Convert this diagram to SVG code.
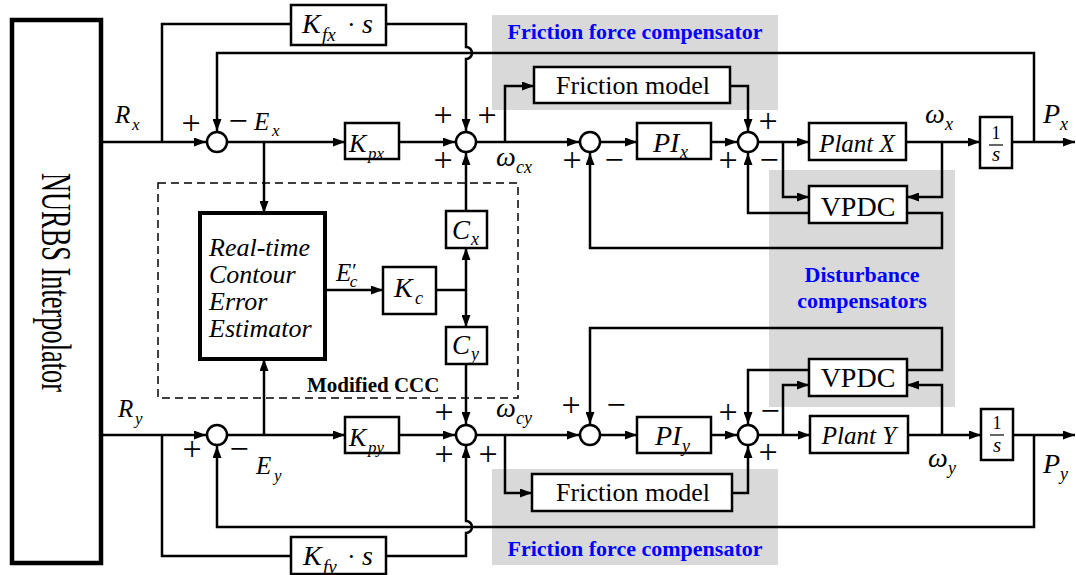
<svg xmlns="http://www.w3.org/2000/svg" width="1076" height="575" viewBox="0 0 1076 575">
<style>
.ln{stroke:#000;stroke-width:2.5;fill:none}
.ar{marker-end:url(#a)}
.bx{fill:#fff;stroke:#000;stroke-width:2.5}
.sm{fill:#fff;stroke:#000;stroke-width:2.5}
.gr{fill:#d9d9d9}
text{font-family:"Liberation Serif","Times New Roman",serif;fill:#000}
.i{font-style:italic}
.s{font-size:34px;text-anchor:middle}
.bl{font-weight:bold;fill:#0000ff;font-size:22px;text-anchor:middle}
</style>
<defs>
<marker id="a" viewBox="0 0 12 9" refX="12" refY="4.5" markerWidth="12" markerHeight="9" markerUnits="userSpaceOnUse" orient="auto"><path d="M0,0L12,4.5L0,9z" fill="#000"/></marker>
</defs>
<rect x="0" y="0" width="1076" height="575" fill="#fff"/>
<!-- gray regions -->
<rect class="gr" x="492" y="15" width="286" height="95"/>
<rect class="gr" x="769" y="170" width="186" height="237"/>
<rect class="gr" x="492" y="469" width="286" height="96"/>
<!-- dashed CCC -->
<rect x="158" y="183" width="360" height="215" fill="none" stroke="#000" stroke-width="1.5" stroke-dasharray="8 5"/>
<g id="connectors">
<!-- top -->
<path class="ln ar" d="M101,142H206"/>
<path class="ln" d="M162,142V24H291"/>
<path class="ln ar" d="M386,24H466V47a6,6 0 0 1 0,12V131"/>
<path class="ln ar" d="M1034,142V53H217V131"/>
<path class="ln ar" d="M227,142H345"/>
<path class="ln ar" d="M264,142V213"/>
<path class="ln ar" d="M399,142H455"/>
<path class="ln ar" d="M476,142H579"/>
<path class="ln ar" d="M505,142V86H534"/>
<path class="ln ar" d="M730,86H748V131"/>
<path class="ln ar" d="M600,142H637"/>
<path class="ln ar" d="M711,142H737"/>
<path class="ln ar" d="M758,142H809"/>
<path class="ln ar" d="M906,142H980"/>
<path class="ln ar" d="M1012,142H1075"/>
<path class="ln ar" d="M942,142V197H907"/>
<path class="ln ar" d="M783,142V197H809"/>
<path class="ln ar" d="M809,213H748V153"/>
<path class="ln ar" d="M907,213H942V248H590V153"/>
<!-- CCC -->
<path class="ln ar" d="M325,290H383"/>
<path class="ln" d="M436,290H466"/>
<path class="ln ar" d="M466,290V248"/>
<path class="ln ar" d="M466,290V327"/>
<path class="ln ar" d="M466,211V153"/>
<path class="ln ar" d="M466,364V424"/>
<!-- bottom -->
<path class="ln ar" d="M101,435H206"/>
<path class="ln" d="M162,435V556H291"/>
<path class="ln ar" d="M386,556H466V533a6,6 0 0 0 0,-12V446"/>
<path class="ln ar" d="M1034,435V527H217V446"/>
<path class="ln ar" d="M227,435H345"/>
<path class="ln ar" d="M264,435V359"/>
<path class="ln ar" d="M399,435H455"/>
<path class="ln ar" d="M476,435H579"/>
<path class="ln ar" d="M505,435V493H532"/>
<path class="ln ar" d="M732,493H748V446"/>
<path class="ln ar" d="M600,435H637"/>
<path class="ln ar" d="M711,435H737"/>
<path class="ln ar" d="M758,435H810"/>
<path class="ln ar" d="M908,435H981"/>
<path class="ln ar" d="M1013,435H1075"/>
<path class="ln ar" d="M942,435V385H907"/>
<path class="ln ar" d="M783,435V385H809"/>
<path class="ln ar" d="M809,370H748V424"/>
<path class="ln ar" d="M907,370H942V328H590V424"/>
</g>
<!-- NURBS -->
<g id="nurbs">
<rect x="12" y="20" width="89" height="543" fill="#fff" stroke="#000" stroke-width="4.5"/>
<text transform="translate(42,173) rotate(90)" font-size="42" textLength="219" lengthAdjust="spacingAndGlyphs">NURBS Interpolator</text>
</g>
<!-- sums -->
<g id="sum1x"><circle class="sm" cx="217" cy="142" r="10"/></g>
<g id="sum2x"><circle class="sm" cx="466" cy="142" r="10"/></g>
<g id="sum3x"><circle class="sm" cx="590" cy="142" r="10"/></g>
<g id="sum4x"><circle class="sm" cx="748" cy="142" r="10"/></g>
<g id="sum1y"><circle class="sm" cx="217" cy="435" r="10"/></g>
<g id="sum2y"><circle class="sm" cx="466" cy="435" r="10"/></g>
<g id="sum3y"><circle class="sm" cx="590" cy="435" r="10"/></g>
<g id="sum4y"><circle class="sm" cx="748" cy="435" r="10"/></g>
<!-- blocks -->
<g id="kfx"><rect class="bx" x="291" y="5" width="95" height="40"/>
<text class="i" x="302" y="33" font-size="28">K</text><text class="i" x="322" y="41" font-size="19">fx</text><text x="347" y="33" font-size="26">·</text><text class="i" x="362" y="33" font-size="28">s</text></g>
<g id="kfy"><rect class="bx" x="291" y="537" width="95" height="37"/>
<text class="i" x="303" y="565" font-size="28">K</text><text class="i" x="323" y="573" font-size="19">fy</text><text x="347" y="565" font-size="26">·</text><text class="i" x="362" y="565" font-size="28">s</text></g>
<g id="kpx"><rect class="bx" x="345" y="123" width="54" height="36"/>
<text class="i" x="349" y="152" font-size="26">K</text><text class="i" x="368" y="159" font-size="17">px</text></g>
<g id="kpy"><rect class="bx" x="345" y="417" width="54" height="36"/>
<text class="i" x="349" y="446" font-size="26">K</text><text class="i" x="368" y="453" font-size="17">py</text></g>
<g id="frx"><rect class="bx" x="534" y="67" width="196" height="36"/>
<text x="633" y="94" font-size="26" text-anchor="middle">Friction model</text></g>
<g id="fry"><rect class="bx" x="532" y="474" width="200" height="37"/>
<text x="633" y="501" font-size="26" text-anchor="middle">Friction model</text></g>
<g id="pix"><rect class="bx" x="637" y="123" width="74" height="36"/>
<text class="i" x="653" y="152" font-size="28">PI</text><text class="i" x="680" y="158" font-size="18">x</text></g>
<g id="piy"><rect class="bx" x="637" y="417" width="74" height="36"/>
<text class="i" x="655" y="445" font-size="28">PI</text><text class="i" x="682" y="452" font-size="18">y</text></g>
<g id="plantx"><rect class="bx" x="809" y="123" width="97" height="37"/>
<text class="i" x="857" y="152" font-size="25" text-anchor="middle">Plant X</text></g>
<g id="planty"><rect class="bx" x="810" y="416" width="98" height="37"/>
<text class="i" x="859" y="444" font-size="25" text-anchor="middle">Plant Y</text></g>
<g id="intx"><rect class="bx" x="980" y="117" width="32" height="51"/>
<text x="996" y="139" font-size="18" text-anchor="middle">1</text><path d="M989,145H1003" stroke="#000" stroke-width="1.2"/><text class="i" x="996" y="161" font-size="21" text-anchor="middle">s</text></g>
<g id="inty"><rect class="bx" x="981" y="409" width="32" height="51"/>
<text x="997" y="429" font-size="18" text-anchor="middle">1</text><path d="M990,435H1004" stroke="#000" stroke-width="1.2"/><text class="i" x="997" y="452" font-size="21" text-anchor="middle">s</text></g>
<g id="vpdcx"><rect class="bx" x="809" y="186" width="98" height="37"/>
<text x="858" y="216" font-size="28" text-anchor="middle">VPDC</text></g>
<g id="vpdcy"><rect class="bx" x="809" y="359" width="98" height="37"/>
<text x="858" y="387" font-size="28" text-anchor="middle">VPDC</text></g>
<g id="rtcee"><rect x="200" y="213" width="125" height="146" fill="#fff" stroke="#000" stroke-width="4"/>
<text class="i" font-size="26"><tspan x="209" y="256">Real-time</tspan><tspan x="209" y="283">Contour</tspan><tspan x="209" y="310">Error</tspan><tspan x="209" y="337">Estimator</tspan></text></g>
<g id="kc"><rect class="bx" x="383" y="267" width="53" height="47"/>
<text class="i" x="394" y="297" font-size="28">K</text><text class="i" x="415" y="304" font-size="18">c</text></g>
<g id="cx"><rect class="bx" x="446" y="211" width="41" height="37"/>
<text class="i" x="452" y="239" font-size="27">C</text><text class="i" x="471" y="245" font-size="18">x</text></g>
<g id="cy"><rect class="bx" x="446" y="327" width="41" height="37"/>
<text class="i" x="452" y="354" font-size="27">C</text><text class="i" x="471" y="360" font-size="18">y</text></g>
<!-- labels -->
<g id="labels">
<text class="i" x="115" y="123" font-size="25">R</text><text class="i" x="132" y="130" font-size="17">x</text>
<text class="i" x="254" y="130" font-size="25">E</text><text class="i" x="272" y="136" font-size="17">x</text>
<text class="i" x="118" y="417" font-size="25">R</text><text class="i" x="135" y="424" font-size="17">y</text>
<text class="i" x="256" y="474" font-size="25">E</text><text class="i" x="274" y="481" font-size="17">y</text>
<text class="i" x="336" y="281" font-size="25">E<tspan font-style="normal" font-size="20" dx="1" dy="-3">′</tspan><tspan font-size="17" dx="-7" dy="9">c</tspan></text>
<text class="i" x="496" y="166" font-size="28">ω</text><text class="i" x="516" y="173" font-size="18">cx</text>
<text class="i" x="496" y="417" font-size="28">ω</text><text class="i" x="516" y="424" font-size="18">cy</text>
<text class="i" x="925" y="123" font-size="28">ω</text><text class="i" x="945" y="130" font-size="18">x</text>
<text class="i" x="928" y="467" font-size="28">ω</text><text class="i" x="948" y="474" font-size="18">y</text>
<text class="i" x="1043" y="123" font-size="28">P</text><text class="i" x="1060" y="130" font-size="18">x</text>
<text class="i" x="1043" y="473" font-size="28">P</text><text class="i" x="1060" y="480" font-size="18">y</text>
<text font-weight="bold" x="307" y="392" font-size="21">Modified CCC</text>
<text class="bl" x="635" y="39">Friction force compensator</text>
<text class="bl" x="635" y="556">Friction force compensator</text>
<text class="bl" x="862" y="282">Disturbance</text>
<text class="bl" x="862" y="308">compensators</text>
<!-- signs -->
<text class="s" x="191" y="134">+</text><text class="s" x="238" y="132">−</text>
<text class="s" x="443" y="126">+</text><text class="s" x="487" y="126">+</text><text class="s" x="443" y="171">+</text>
<text class="s" x="572" y="171">+</text><text class="s" x="614" y="171">−</text>
<text class="s" x="768" y="132">+</text><text class="s" x="728" y="171">+</text><text class="s" x="769" y="171">−</text>
<text class="s" x="192" y="460">+</text><text class="s" x="239" y="460">−</text>
<text class="s" x="444" y="423">+</text><text class="s" x="444" y="465">+</text><text class="s" x="488" y="465">+</text>
<text class="s" x="571" y="416">+</text><text class="s" x="616" y="416">−</text>
<text class="s" x="728" y="423">+</text><text class="s" x="770" y="422">−</text><text class="s" x="768" y="463">+</text>
</g>
</svg>
